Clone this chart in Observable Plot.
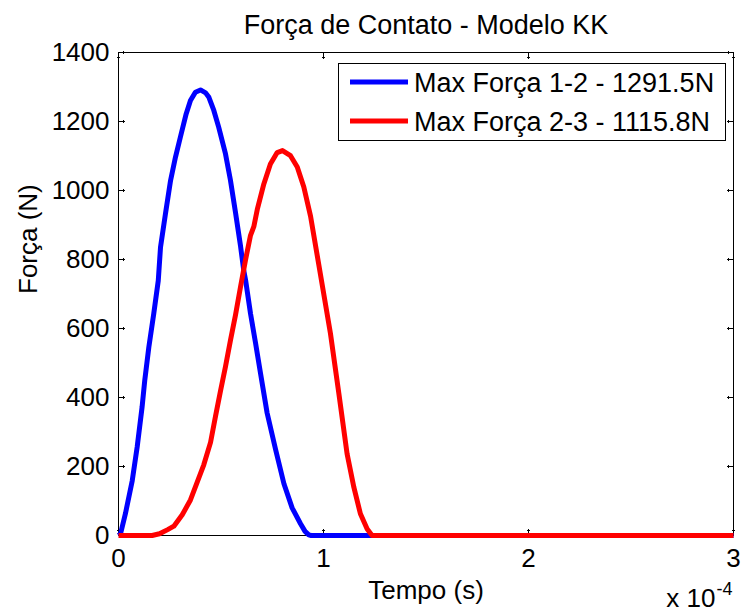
<!DOCTYPE html>
<html>
<head>
<meta charset="utf-8">
<script src="https://cdn.jsdelivr.net/npm/d3@7"></script>
<script src="https://cdn.jsdelivr.net/npm/@observablehq/plot@0.6"></script>
<style>
  html, body { margin: 0; padding: 0; background: #fff; }
  #chart svg { display: block; }
</style>
</head>
<body>
<div id="chart"></div>
<script>
// Tempo em unidades de 1e-4 s; força em N
const tempo12 = [0, 0.01, 0.034, 0.067, 0.091, 0.115, 0.128, 0.148, 0.172, 0.194, 0.205, 0.229, 0.254, 0.278, 0.302, 0.330, 0.351, 0.375, 0.40, 0.425, 0.441, 0.465, 0.489, 0.522, 0.546, 0.571, 0.595, 0.611, 0.620, 0.644, 0.668, 0.693, 0.725, 0.766, 0.807, 0.847, 0.888, 0.910, 0.928, 0.940, 3];
const forca12 = [0, 5, 64, 159, 256, 372, 449, 546, 643, 739, 836, 932, 1029, 1097, 1155, 1222, 1261, 1285, 1291.5, 1283, 1270, 1232, 1183, 1106, 1030, 935, 840, 768, 740, 643, 560, 469, 355, 250, 150, 80, 34, 12, 2, 0, 0];

const tempo23 = [0, 0.164, 0.20, 0.24, 0.27, 0.311, 0.351, 0.384, 0.416, 0.449, 0.473, 0.498, 0.522, 0.546, 0.571, 0.595, 0.620, 0.644, 0.660, 0.677, 0.709, 0.741, 0.774, 0.80, 0.839, 0.872, 0.904, 0.937, 0.977, 1.034, 1.075, 1.115, 1.148, 1.180, 1.213, 1.237, 3];
const forca23 = [0, 0, 5, 17, 27, 60, 103, 155, 205, 270, 345, 420, 490, 565, 640, 720, 800, 870, 895, 945, 1019, 1077, 1110, 1115.8, 1101, 1068, 1010, 925, 785, 585, 411, 237, 140, 63, 19, 0, 0];

const xTicks = [0, 1, 2, 3];
const yTicks = [0, 200, 400, 600, 800, 1000, 1200, 1400];

const series = [
  {nome: "Max Força 1-2", cor: "#0000ff", tempo: tempo12, forca: forca12},
  {nome: "Max Força 2-3", cor: "#ff0000", tempo: tempo23, forca: forca23}
];
const rows = series.flatMap(s => s.tempo.map((t, i) => ({serie: s.nome, t, f: s.forca[i]})));

const font = "Arial, 'Liberation Sans', Helvetica, sans-serif";
const tickLen = 6;

const chart = Plot.plot({
  width: 741,
  height: 613,
  marginLeft: 118,
  marginRight: 8,
  marginTop: 52,
  marginBottom: 78,
  style: {fontFamily: font, fontSize: "26px", color: "#000", background: "#fff", overflow: "visible"},
  x: {domain: [0, 3]},
  y: {domain: [0, 1400]},
  color: {domain: series.map(s => s.nome), range: series.map(s => s.cor)},
  marks: [
    Plot.frame({stroke: "#000", strokeWidth: 1}),
    Plot.axisX({anchor: "bottom", ticks: xTicks, tickSize: 0, tickPadding: 13, tickFormat: "d", label: null}),
    Plot.axisY({anchor: "left", ticks: yTicks, tickSize: 0, tickPadding: 9, tickFormat: "d", label: null}),
    // marcas de escala voltadas para dentro, nos quatro lados
    Plot.vector(xTicks, {x: d => d, frameAnchor: "bottom", length: tickLen, rotate: 0, anchor: "start", stroke: "#000", strokeWidth: 1}),
    Plot.vector(xTicks, {x: d => d, frameAnchor: "top", length: tickLen, rotate: 180, anchor: "start", stroke: "#000", strokeWidth: 1}),
    Plot.vector(yTicks, {y: d => d, frameAnchor: "left", length: tickLen, rotate: 90, anchor: "start", stroke: "#000", strokeWidth: 1}),
    Plot.vector(yTicks, {y: d => d, frameAnchor: "right", length: tickLen, rotate: -90, anchor: "start", stroke: "#000", strokeWidth: 1}),
    Plot.line(rows, {x: "t", y: "f", z: "serie", stroke: "serie", strokeWidth: 5, strokeLinejoin: "round", strokeLinecap: "butt"}),
    Plot.text(["Força de Contato - Modelo KK"], {frameAnchor: "top", dy: -27, lineAnchor: "middle", fontSize: 27}),
    Plot.text(["Tempo (s)"], {frameAnchor: "bottom", dy: 55, lineAnchor: "middle", fontSize: 26}),
    Plot.text(["Força (N)"], {frameAnchor: "left", dx: -90, rotate: -90, lineAnchor: "middle", fontSize: 26}),
    Plot.text(["x 10"], {frameAnchor: "bottom-right", textAnchor: "end", dx: -18, dy: 63, lineAnchor: "middle", fontSize: 26}),
    Plot.text(["-4"], {frameAnchor: "bottom-right", textAnchor: "start", dx: -17, dy: 54, lineAnchor: "middle", fontSize: 18})
  ]
});

// Legenda com o valor máximo de cada série
const svg = d3.select(chart);
const leg = svg.append("g")
  .attr("font-family", font)
  .attr("font-size", 27)
  .attr("text-anchor", "start");
leg.append("rect")
  .attr("x", 338.5).attr("y", 63.5).attr("width", 387).attr("height", 77)
  .attr("fill", "#fff").attr("stroke", "#000").attr("stroke-width", 1);
series.forEach((s, i) => {
  const cy = 82 + i * 39;
  leg.append("line")
    .attr("x1", 350).attr("x2", 408).attr("y1", cy).attr("y2", cy)
    .attr("stroke", s.cor).attr("stroke-width", 5);
  leg.append("text")
    .attr("x", 414).attr("y", cy).attr("dy", "0.36em")
    .attr("fill", "#000")
    .text(`${s.nome} - ${d3.max(s.forca).toFixed(1)}N`);
});

document.getElementById("chart").appendChild(chart);
</script>
</body>
</html>
